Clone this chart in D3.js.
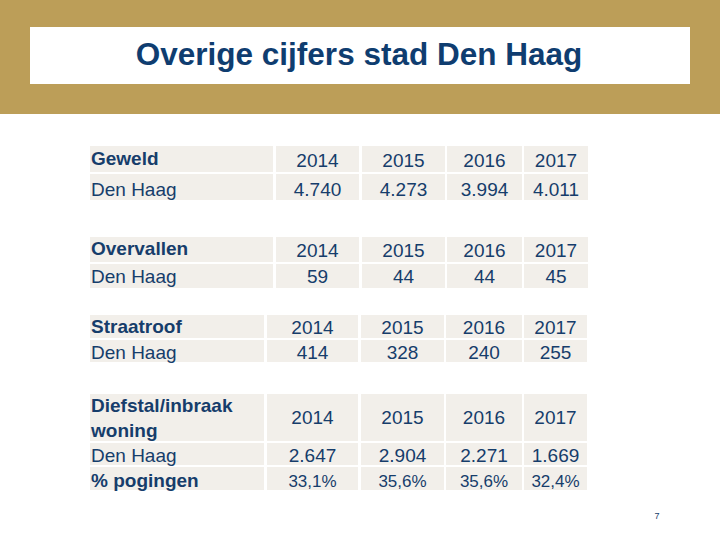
<!DOCTYPE html>
<html><head><meta charset="utf-8">
<script src="https://cdn.jsdelivr.net/npm/d3@7"></script>
<style>html,body{margin:0;padding:0;background:#fff;}svg{display:block;}</style>
</head><body>
<script>
// ---- data ----
const title = "Overige cijfers stad Den Haag";
const years = [2014, 2015, 2016, 2017];
const categories = ["Geweld", "Overvallen", "Straatroof", "Diefstal/inbraak woning"];
const cityLabel = "Den Haag";
const pctLabel = "% pogingen";
const geweldValues = [4740, 4273, 3994, 4011];
const overvallenValues = [59, 44, 44, 45];
const straatroofValues = [414, 328, 240, 255];
const inbraakValues = [2647, 2904, 2271, 1669];
const pogingenPct = [33.1, 35.6, 35.6, 32.4];
const pageNumber = "7";

// ---- setup ----
const W = 720, H = 540;
const nl = d3.formatLocale({decimal: ",", thousands: ".", grouping: [3], currency: ["€", ""]});
const fmtN = nl.format(",d");
const fmtP = v => nl.format(".1f")(v) + "%";
const blue = "#163d6b", cellBg = "#f2efea", gold = "#bc9e58";
const font = "'Liberation Sans', Arial, sans-serif";

const svg = d3.select("body").append("svg").attr("width", W).attr("height", H);

// header band
svg.append("rect").attr("x", 0).attr("y", 0).attr("width", W).attr("height", 114).attr("fill", gold);
svg.append("rect").attr("x", 30).attr("y", 27).attr("width", 660).attr("height", 57).attr("fill", "#fff");
svg.append("text").attr("x", 359).attr("y", 65).attr("text-anchor", "middle")
  .attr("font-family", font).attr("font-size", 31.5).attr("font-weight", "bold")
  .attr("fill", "#0f3d70").text(title);

// column scales (two table layouts)
const colsA = d3.scaleOrdinal().domain(years).range([[276, 359], [362, 445], [447, 522], [524, 588]]);
const colsB = d3.scaleOrdinal().domain(years).range([[267, 358], [361, 444], [446, 522], [524, 587]]);

const tables = [
  {cat: categories[0], cols: colsA, labelW: [90, 273],
   rows: [{y: [146, 172], base: 165, label: categories[0], bold: true, vals: years.map(String), vbase: 167, fs: 19},
          {y: [174, 200], base: 196, label: cityLabel, bold: false, vals: geweldValues.map(fmtN), vbase: 196, fs: 19}]},
  {cat: categories[1], cols: colsA, labelW: [90, 273],
   rows: [{y: [237, 262], base: 255, label: categories[1], bold: true, vals: years.map(String), vbase: 257, fs: 19},
          {y: [264, 288], base: 283, label: cityLabel, bold: false, vals: overvallenValues.map(fmtN), vbase: 283, fs: 19}]},
  {cat: categories[2], cols: colsB, labelW: [90, 264],
   rows: [{y: [315, 338], base: 333, label: categories[2], bold: true, vals: years.map(String), vbase: 334, fs: 19},
          {y: [340, 362], base: 359, label: cityLabel, bold: false, vals: straatroofValues.map(fmtN), vbase: 359, fs: 19}]},
  {cat: categories[3], cols: colsB, labelW: [90, 264],
   rows: [{y: [394, 441], base: 412, label: ["Diefstal/inbraak", "woning"], bold: true, vals: years.map(String), vbase: 424, fs: 19},
          {y: [443, 465], base: 462, label: cityLabel, bold: false, vals: inbraakValues.map(fmtN), vbase: 462, fs: 19},
          {y: [467, 490], base: 487, label: pctLabel, bold: true, vals: pogingenPct.map(fmtP), vbase: 487, fs: 17}]}
];

tables.forEach(t => {
  const g = svg.append("g");
  t.rows.forEach(r => {
    // label cell
    g.append("rect").attr("x", t.labelW[0]).attr("y", r.y[0]).attr("width", t.labelW[1] - t.labelW[0])
      .attr("height", r.y[1] - r.y[0]).attr("fill", cellBg);
    const lab = g.append("text").attr("x", 91).attr("y", r.base).attr("font-family", font)
      .attr("font-size", 19).attr("font-weight", r.bold ? "bold" : "normal").attr("fill", blue);
    if (Array.isArray(r.label)) {
      r.label.forEach((l, i) => lab.append("tspan").attr("x", 91).attr("dy", i === 0 ? 0 : 25).text(l));
    } else lab.text(r.label);
    // value cells
    years.forEach((yr, i) => {
      const c = t.cols(yr);
      g.append("rect").attr("x", c[0]).attr("y", r.y[0]).attr("width", c[1] - c[0])
        .attr("height", r.y[1] - r.y[0]).attr("fill", cellBg);
      g.append("text").attr("x", (c[0] + c[1]) / 2).attr("y", r.vbase).attr("text-anchor", "middle")
        .attr("font-family", font).attr("font-size", r.fs).attr("fill", blue).text(r.vals[i]);
    });
  });
});

// page number
svg.append("text").attr("x", 657).attr("y", 519).attr("text-anchor", "middle")
  .attr("font-family", font).attr("font-size", 9).attr("fill", blue).text(pageNumber);
</script>
</body></html>
